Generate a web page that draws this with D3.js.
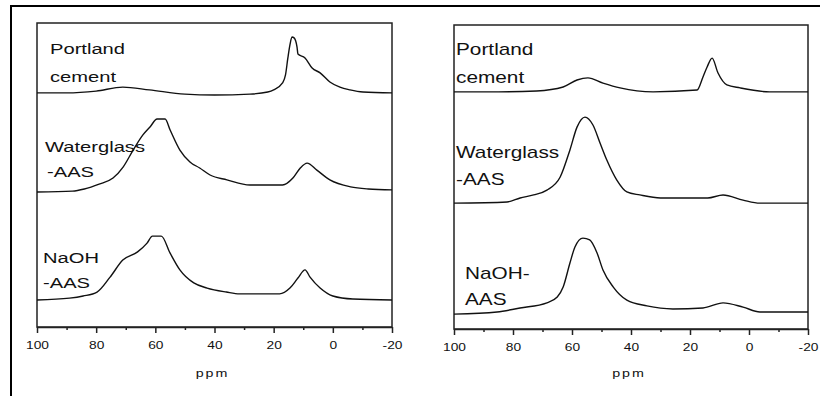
<!DOCTYPE html>
<html>
<head>
<meta charset="utf-8">
<script src="https://cdn.jsdelivr.net/npm/d3@7"></script>
<style>
  body { margin: 0; background: #fff; }
  svg { display: block; }
</style>
</head>
<body>
<div id="chart"></div>
<script>
// ppm axis ticks
const ppmTicks = [100, 80, 60, 40, 20, 0, -20];
const ppmMinorTicks = [90, 70, 50, 30, 10, -10];
const axisTitle = "ppm";

// intensity is in arbitrary units: 0 = axis line, 100 = top of frame

// left panel
const leftPortlandPpm = [100, 90, 80, 71, 62, 50, 40, 28, 22, 20, 17, 16, 15.2, 14.5, 13.8, 13.1, 12.1, 11.8, 9.4, 7, 4.3, 1, -2.4, -5.8, -10.2, -20];
const leftPortlandVal = [77.0, 77.0, 77.6, 78.9, 78.0, 76.6, 76.3, 76.6, 77.3, 78.0, 80.3, 82.9, 88.5, 92.8, 95.4, 95.1, 92.1, 89.8, 88.5, 85.2, 83.6, 80.6, 78.9, 78.0, 77.3, 77.0];

const leftWaterglassPpm = [100, 88, 84, 79, 74.3, 70.9, 67.5, 64.2, 61.8, 59.4, 56.7, 55, 51.7, 48.3, 45, 41.5, 35.8, 28, 17, 13.5, 11, 8.7, 5.4, 1, -6, -12, -20];
const leftWaterglassVal = [44.4, 44.7, 45.4, 47.0, 49.0, 52.6, 58.2, 63.2, 65.8, 68.4, 68.4, 64.8, 58.2, 54.3, 52.3, 50.0, 48.4, 46.7, 46.7, 49.0, 52.3, 53.9, 51.6, 48.4, 46.1, 45.4, 45.1];

const leftNaohPpm = [100, 89, 84.4, 79.7, 75.3, 71, 66, 62.8, 61, 58, 55, 51.7, 47, 42.5, 36, 31.5, 18, 14.5, 11.8, 9.4, 7.7, 4.3, 0, -6.8, -20];
const leftNaohVal = [8.9, 9.5, 10.2, 11.5, 16.4, 22.0, 24.7, 27.6, 29.9, 29.9, 24.3, 18.8, 14.5, 12.8, 11.5, 10.9, 10.9, 12.8, 16.1, 18.8, 16.4, 12.8, 10.2, 9.2, 8.9];

// right panel
const rightPortlandPpm = [100, 85, 72, 63, 58.3, 54.6, 49.5, 43.7, 32.5, 17.6, 15.6, 14.2, 12.5, 10.5, 7.5, 3, -7, -20];
const rightPortlandVal = [78.0, 78.0, 78.3, 79.6, 81.9, 82.6, 80.9, 79.3, 78.0, 78.6, 82.9, 86.2, 89.1, 84.2, 80.3, 79.3, 78.0, 78.0];

const rightWaterglassPpm = [100, 82, 77.6, 73, 68.5, 64, 60.7, 58.3, 55.6, 52.9, 50.5, 48.2, 44.8, 41.4, 37, 30, 14, 8.8, 2, -3.7, -20];
const rightWaterglassVal = [41.4, 41.8, 43.1, 44.1, 45.7, 50.0, 58.9, 66.4, 69.7, 67.1, 61.2, 55.6, 49.0, 45.1, 44.1, 43.1, 43.1, 44.1, 42.4, 41.4, 41.4];

const rightNaohPpm = [100, 85.4, 77.6, 68.5, 65, 63, 60.7, 59, 56.3, 54, 51.5, 49.5, 46, 41.4, 34.6, 25.8, 15.6, 8.8, 2, -3.7, -20];
const rightNaohVal = [4.9, 5.6, 6.9, 8.6, 10.5, 13.8, 21.7, 27.0, 29.9, 29.3, 25.0, 19.4, 13.8, 9.5, 7.6, 6.6, 6.9, 8.6, 7.2, 5.6, 5.6];

const leftLabels = [["Portland", "cement"], ["Waterglass", "-AAS"], ["NaOH", "-AAS"]];
const rightLabels = [["Portland", "cement"], ["Waterglass", "-AAS"], ["NaOH-", "AAS"]];

const toPoints = (ppm, val) => ppm.map((p, i) => ({ ppm: p, v: val[i] }));

// panel layout
const panels = [
  {
    x0: 37, x1: 392, top: 23, bottom: 327, fontSize: 15.5,
    series: [
      toPoints(leftPortlandPpm, leftPortlandVal),
      toPoints(leftWaterglassPpm, leftWaterglassVal),
      toPoints(leftNaohPpm, leftNaohVal)
    ],
    labels: leftLabels,
    labelPos: [[50, 54, 50, 82], [45, 152, 47, 177], [43, 263, 43, 288]]
  },
  {
    x0: 454, x1: 808, top: 25, bottom: 329, fontSize: 16,
    series: [
      toPoints(rightPortlandPpm, rightPortlandVal),
      toPoints(rightWaterglassPpm, rightWaterglassVal),
      toPoints(rightNaohPpm, rightNaohVal)
    ],
    labels: rightLabels,
    labelPos: [[456, 55, 456, 83], [456, 158, 456, 185], [465, 279, 465, 305]]
  }
];

const svg = d3.select("#chart")
  .append("svg")
    .attr("width", 820)
    .attr("height", 396);

// outer frame (open on right and bottom)
svg.append("path")
  .attr("d", "M11,396 L11,6 L820,6")
  .attr("fill", "none")
  .attr("stroke", "#000")
  .attr("stroke-width", 2);

const fontFamily = "'Liberation Sans', Arial, sans-serif";

panels.forEach(p => {
  const xScale = d3.scaleLinear()
    .domain([100, -20])
    .range([p.x0, p.x1]);
  const yScale = d3.scaleLinear()
    .domain([0, 100])
    .range([p.bottom, p.top]);

  const g = svg.append("g");

  // frame
  g.append("rect")
    .attr("x", p.x0)
    .attr("y", p.top)
    .attr("width", p.x1 - p.x0)
    .attr("height", p.bottom - p.top)
    .attr("fill", "none")
    .attr("stroke", "#222")
    .attr("stroke-width", 1.5);

  // major ticks
  const axis = g.append("g")
    .attr("transform", `translate(0, ${p.bottom})`)
    .call(d3.axisBottom(xScale)
      .tickValues(ppmTicks)
      .tickSize(6)
      .tickSizeOuter(0)
      .tickPadding(8)
      .tickFormat(d => String(d)));
  axis.select(".domain").attr("stroke", "#222").attr("stroke-width", 1.5);
  axis.selectAll(".tick line").attr("stroke", "#222").attr("stroke-width", 1.5);
  axis.selectAll(".tick text")
    .attr("fill", "#111")
    .attr("transform", "scale(1.25,1)")
    .style("font-family", fontFamily)
    .style("font-size", "11px");

  // minor ticks
  const minor = g.append("g")
    .attr("transform", `translate(0, ${p.bottom})`)
    .call(d3.axisBottom(xScale)
      .tickValues(ppmMinorTicks)
      .tickSize(3)
      .tickFormat(""));
  minor.select(".domain").remove();
  minor.selectAll(".tick line").attr("stroke", "#222").attr("stroke-width", 1.5);

  // axis title
  g.append("text")
    .text(axisTitle)
    .attr("transform", `translate(${(p.x0 + p.x1) / 2 - 2}, 377) scale(1.3,1)`)
    .attr("text-anchor", "middle")
    .attr("fill", "#111")
    .style("letter-spacing", "1.5px")
    .style("font-family", fontFamily)
    .style("font-size", "11px");

  // spectra
  const line = d3.line()
    .x(d => xScale(d.ppm))
    .y(d => yScale(d.v))
    .curve(d3.curveMonotoneX);

  g.selectAll("path.trace")
    .data(p.series)
    .join("path")
      .attr("class", "trace")
      .attr("d", line)
      .attr("fill", "none")
      .attr("stroke", "#111")
      .attr("stroke-width", 1.4);

  // sample labels
  p.labels.forEach((lab, i) => {
    const pos = p.labelPos[i];
    lab.forEach((t, j) => {
      g.append("text")
        .text(t)
        .attr("transform", `translate(${pos[j * 2]}, ${pos[j * 2 + 1]}) scale(1.3,1)`)
        .attr("fill", "#111")
        .style("font-family", fontFamily)
        .style("font-size", p.fontSize + "px");
    });
  });
});
</script>
</body>
</html>
